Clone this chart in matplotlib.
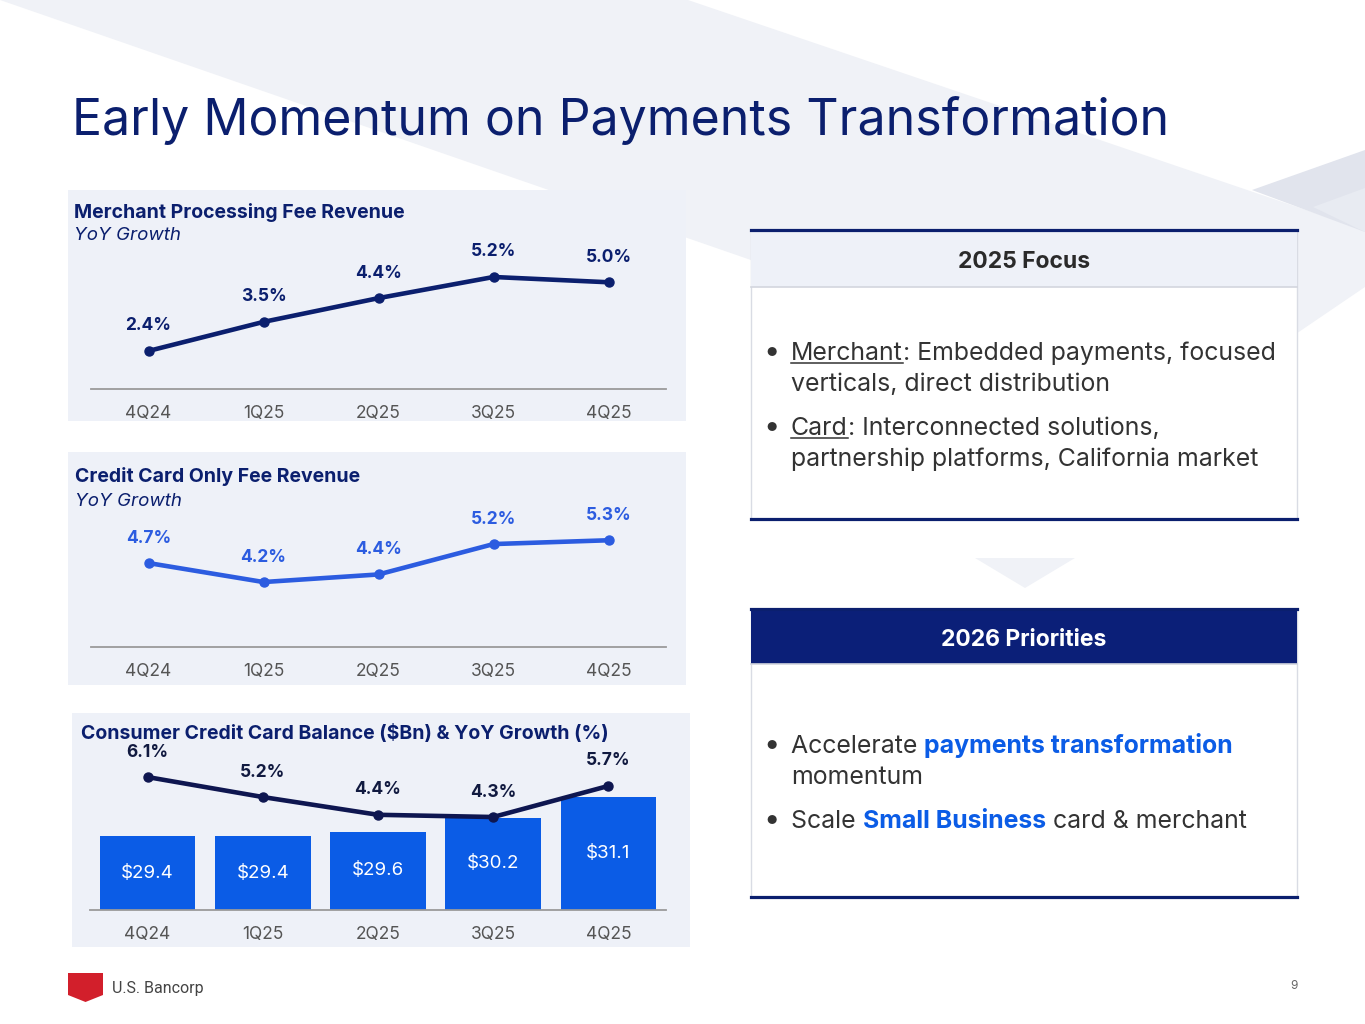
import numpy as np
import matplotlib
matplotlib.use('Agg')
import matplotlib.pyplot as plt
from matplotlib.patches import Rectangle, Polygon

plt.rcParams['font.family'] = ['Inter', 'DejaVu Sans']

# data
quarters = ['4Q24', '1Q25', '2Q25', '3Q25', '4Q25']
merchant_growth = [2.4, 3.5, 4.4, 5.2, 5.0]
card_fee_growth = [4.7, 4.2, 4.4, 5.2, 5.3]
card_balance = [29.4, 29.4, 29.6, 30.2, 31.1]
balance_growth = [6.1, 5.2, 4.4, 4.3, 5.7]

W, H = 1365, 1024
NAVY = '#0b1f6e'
PANEL = '#eef1f8'
BAND = '#f0f2f7'

fig = plt.figure(figsize=(W / 100, H / 100), dpi=100)
fig.patch.set_facecolor('white')

bg = fig.add_axes([0, 0, 1, 1], zorder=0)
bg.set_xlim(0, W)
bg.set_ylim(H, 0)
bg.axis('off')


def px_axes(x0, y0, x1, y1):
    # axes placed in slide pixel coords (y down)
    ax = fig.add_axes([x0 / W, 1 - y1 / H, (x1 - x0) / W, (y1 - y0) / H], zorder=2)
    ax.patch.set_alpha(0)
    return ax


# background decoration
bg.add_patch(Polygon([(0, 0), (688, 0), (1365, 230), (1365, 287), (1184, 410)],
                     closed=True, color=BAND, lw=0))
bg.add_patch(Polygon([(1252, 190), (1365, 150), (1365, 232)], closed=True, color='#e1e4ed', lw=0))
bg.add_patch(Polygon([(1313, 207), (1365, 188), (1365, 232)], closed=True, color='#e8ebf2', lw=0))

bg.text(72, 135, 'Early Momentum on Payments Transformation', fontsize=36,
        color=NAVY, va='baseline', ha='left')

# left panels
for (x0, y0, x1, y1) in [(68, 190, 686, 421), (68, 452, 686, 685), (72, 713, 690, 947)]:
    bg.add_patch(Rectangle((x0, y0), x1 - x0, y1 - y0, color=PANEL, lw=0))


def panel_title(x, y, title, sub=None):
    bg.text(x, y, title, fontsize=14, fontweight='bold', color=NAVY, va='center')
    if sub:
        bg.text(x, y + 24, sub, fontsize=13.5, style='italic', color=NAVY, va='center')


def style_axis(ax):
    for s in ['top', 'right', 'left']:
        ax.spines[s].set_visible(False)
    ax.spines['bottom'].set_color('#9a9a9a')
    ax.spines['bottom'].set_linewidth(1.3)
    ax.set_yticks([])
    ax.set_xlim(-0.5, 4.5)
    ax.set_xticks(range(len(quarters)), quarters)
    ax.tick_params(axis='x', length=0, pad=11.5, labelsize=12.5, labelcolor='#555555')


def line_chart(ax, values, color, label_color, ylim):
    x = np.arange(len(values))
    ax.plot(x, values, color=color, lw=3.3, marker='o', ms=6.5, solid_capstyle='round',
            solid_joinstyle='round')
    for xi, v in zip(x, values):
        ax.annotate(f'{v:.1f}%', (xi, v), xytext=(0, 18), textcoords='offset points',
                    ha='center', va='center', fontsize=12.5, fontweight='bold',
                    color=label_color)
    ax.set_ylim(*ylim)
    style_axis(ax)


panel_title(74, 212, 'Merchant Processing Fee Revenue', 'YoY Growth')
ax1 = px_axes(91, 240, 666, 389)
line_chart(ax1, merchant_growth, NAVY, NAVY, (0.96, 6.6))

panel_title(75, 477, 'Credit Card Only Fee Revenue', 'YoY Growth')
ax2 = px_axes(91, 500, 666, 647)
line_chart(ax2, card_fee_growth, '#2c5ce0', '#2c5ce0', (2.49, 6.36))

panel_title(81, 733, 'Consumer Credit Card Balance ($Bn) & YoY Growth (%)')
ax3 = px_axes(90, 740, 666, 910)
bars = ax3.bar(range(len(card_balance)), card_balance, width=0.83, color='#0b5ce6', zorder=2)
ax3.set_ylim(26.2, 33.57)
for b, v in zip(bars, card_balance):
    ax3.text(b.get_x() + b.get_width() / 2, (26.2 + v) / 2, f'${v:.1f}', ha='center',
             va='center', color='white', fontsize=13.5)
style_axis(ax3)
ax3b = ax3.twinx()
ax3b.patch.set_alpha(0)
x = np.arange(len(balance_growth))
ax3b.plot(x, balance_growth, color='#0e1650', lw=3.3, marker='o', ms=6.5, zorder=3)
for xi, v in zip(x, balance_growth):
    ax3b.annotate(f'{v:.1f}%', (xi, v), xytext=(0, 18), textcoords='offset points',
                  ha='center', va='center', fontsize=12.5, fontweight='bold', color='#111a40')
ax3b.set_ylim(0.11, 7.77)
ax3b.set_yticks([])
for s in ['top', 'right', 'left', 'bottom']:
    ax3b.spines[s].set_visible(False)

# right side boxes
BX0, BX1 = 751, 1297


def box(y_top, y_head, y_bot, head_color, title, title_color):
    bg.add_patch(Rectangle((BX0, y_top), BX1 - BX0, y_bot - y_top, facecolor='white',
                           edgecolor='#d9dce4', lw=1))
    bg.add_patch(Rectangle((BX0, y_top), BX1 - BX0, y_head - y_top, facecolor=head_color,
                           edgecolor='none'))
    bg.plot([BX0, BX1], [y_head, y_head], color='#d3d6de', lw=1.2)
    bg.plot([BX0, BX1], [y_top, y_top], color=NAVY, lw=2.3)
    bg.plot([BX0, BX1], [y_bot, y_bot], color=NAVY, lw=2.3)
    bg.text((BX0 + BX1) / 2, (y_top + y_head) / 2 + 3, title, ha='center', va='center',
            fontsize=16.5, fontweight='bold', color=title_color)


box(230, 287, 519, '#eef1f8', '2025 Focus', '#2a2a2a')
box(609, 664, 897, '#0b1f78', '2026 Priorities', 'white')

bg.add_patch(Polygon([(975, 558), (1075, 558), (1025, 588)], closed=True, color=BAND, lw=0))

renderer = fig.canvas.get_renderer()
TXT = '#333333'
BLUE = '#0b5ce6'
FS = 17.9


def rich_line(x, y, parts, fs=FS):
    for txt, color, weight, underline in parts:
        t = bg.text(x, y, txt, fontsize=fs, color=color, fontweight=weight,
                    va='baseline', ha='left')
        bb = t.get_window_extent(renderer=renderer)
        w = bb.width
        if underline:
            bg.plot([x, x + w], [y + 3, y + 3], color=color, lw=1.1)
        x += w


def bullet(y):
    bg.text(763, y, '•', fontsize=21, color=TXT, va='baseline', ha='left')


bullet(360)
rich_line(791, 360, [('Merchant', TXT, 'normal', True),
                     (': Embedded payments, focused', TXT, 'normal', False)])
rich_line(791, 391, [('verticals, direct distribution', TXT, 'normal', False)])
bullet(435)
rich_line(791, 435, [('Card', TXT, 'normal', True),
                     (': Interconnected solutions,', TXT, 'normal', False)])
rich_line(791, 466, [('partnership platforms, California market', TXT, 'normal', False)])

bullet(753)
rich_line(791, 753, [('Accelerate ', TXT, 'normal', False),
                     ('payments transformation', BLUE, 'bold', False)])
rich_line(791, 784, [('momentum', TXT, 'normal', False)])
bullet(828)
rich_line(791, 828, [('Scale ', TXT, 'normal', False),
                     ('Small Business', BLUE, 'bold', False),
                     (' card & merchant', TXT, 'normal', False)])

# footer
bg.add_patch(Polygon([(68, 973), (103, 973), (103, 995), (85.5, 1002), (68, 995)],
                     closed=True, color='#d21f2b', lw=0))
bg.text(112, 989, 'U.S. Bancorp', fontsize=11.5, color='#444444', va='center',
        family=['Liberation Sans Narrow', 'Roboto'])
bg.text(1294, 986, '9', fontsize=8.5, color='#666666', va='center', ha='center')

fig.savefig('out.png', dpi=100, facecolor='white')
